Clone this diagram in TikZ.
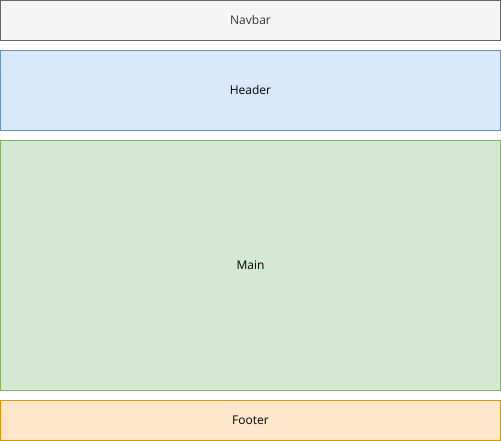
\documentclass[tikz,border=0pt]{standalone}
\usepackage{fontspec}
\setmainfont{Open Sans}
\definecolor{navf}{HTML}{F5F5F5}\definecolor{navd}{HTML}{666666}\definecolor{navt}{HTML}{333333}
\definecolor{hdf}{HTML}{DAE8FC}\definecolor{hdd}{HTML}{6C8EBF}
\definecolor{mnf}{HTML}{D5E8D4}\definecolor{mnd}{HTML}{82B366}
\definecolor{ftf}{HTML}{FFE6CC}\definecolor{ftd}{HTML}{D79B00}
\begin{document}
\begin{tikzpicture}[x=1bp,y=-1bp,
  section/.style={line width=1bp},
  lbl/.style={font=\fontsize{12bp}{14bp}\selectfont,inner sep=0pt}]
\useasboundingbox (0,0) rectangle (501,441);
\draw[section,fill=navf,draw=navd] (0.5,0.5) rectangle (500.5,40.5);
\node[lbl,text=navt] (nav) at (250.5,20) {Navbar};
\draw[section,fill=hdf,draw=hdd] (0.5,50.5) rectangle (500.5,130.5);
\node[lbl] (hdr) at (250.5,90) {Header};
\draw[section,fill=mnf,draw=mnd] (0.5,140.5) rectangle (500.5,390.5);
\node[lbl] (main) at (250.5,265) {Main};
\draw[section,fill=ftf,draw=ftd] (0.5,400.5) rectangle (500.5,440.5);
\node[lbl] (ftr) at (250.5,420) {Footer};
\end{tikzpicture}
\end{document}
